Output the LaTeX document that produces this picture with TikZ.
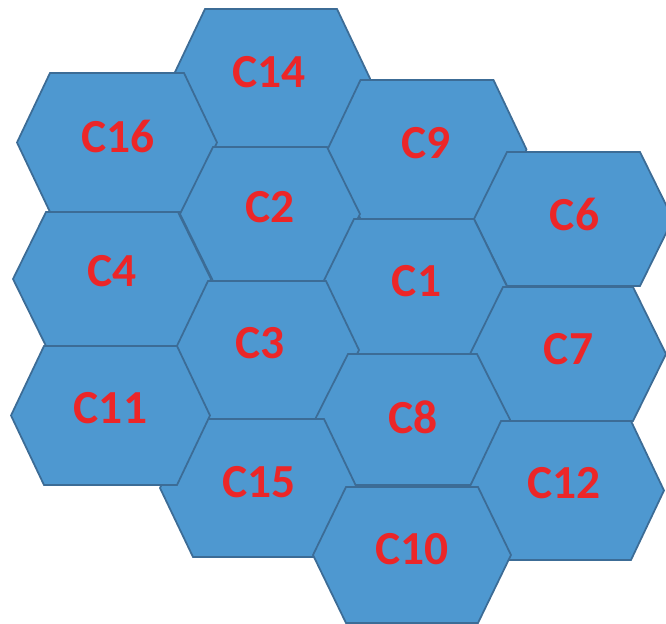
\documentclass[tikz,border=0pt]{standalone}
\usepackage{fontspec}
\setmainfont{Carlito}
\usetikzlibrary{positioning}
\definecolor{cellblue}{RGB}{78,152,208}
\definecolor{celledge}{RGB}{60,108,150}
\definecolor{cellred}{RGB}{236,38,40}
\tikzset{
  cell/.style={fill=cellblue,draw=celledge,line width=1pt,line join=miter},
  tag/.style={text=cellred,font=\fontsize{27}{30}\selectfont\bfseries,inner sep=0pt},
}

\begin{document}
\begin{tikzpicture}[x=0.02cm,y=-0.02cm]
  \useasboundingbox (0,0) rectangle (666,624);
  % n / centre x / centre y / half width / half height / label x / label y
  \foreach \n/\x/\y/\w/\h/\tx/\ty in {
      14/271/78.5/99/69.5/269/72.5,
      9/427/149.5/99.5/69.5/426/143,
      6/573.5/219/99.5/67/574.5/214.5,
      16/117/142.5/100/69.5/118/136,
      2/270/214/90/67/270/207.5,
      1/414/286.5/93/67.5/416.5/281,
      7/568/354/98/67/568.5/349,
      4/112/279/99/67/112/271,
      3/267/350/92/69/260/343,
      8/412.5/419.5/97.5/65.5/413/417,
      12/566/490.5/98/69.5/564/483.5,
      15/258.5/488/98.5/69/259/482,
      11/110.5/415.5/99.5/69.5/110.5/408.5,
      10/412/555/99/68/412/549}{
    \draw[cell] ({\x-\w},\y) -- ({\x-\w+33},{\y-\h}) -- ({\x+\w-33},{\y-\h})
      -- ({\x+\w},\y) -- ({\x+\w-33},{\y+\h}) -- ({\x-\w+33},{\y+\h}) -- cycle;
    \node[tag] (c\n) at (\tx,\ty) {C\n};
  }
\end{tikzpicture}
\end{document}
